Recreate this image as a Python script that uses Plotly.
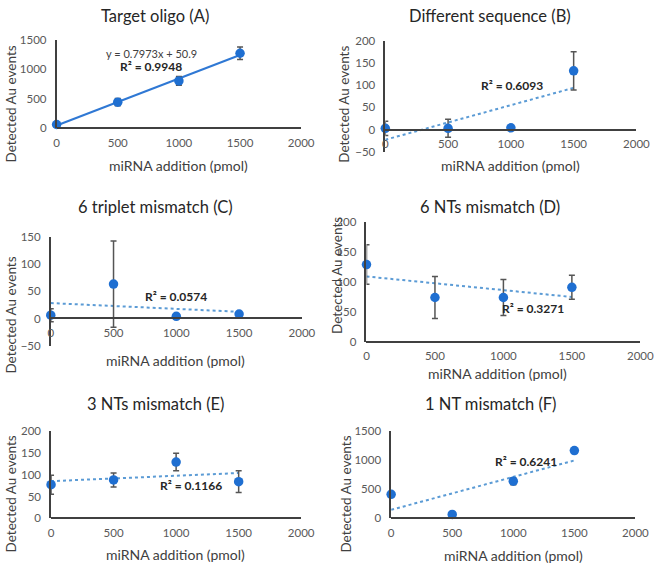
import numpy as np
import plotly.graph_objects as go

W, H = 667, 568

# ---------------- data ----------------
x_pmol = [0, 500, 1000, 1500]

titles = ["Target oligo (A)", "Different sequence (B)", "6 triplet mismatch (C)",
          "6 NTs mismatch (D)", "3 NTs mismatch (E)", "1 NT mismatch (F)"]

y_A = [62, 440, 800, 1268]
err_A = [12, 62, 75, 105]
y_B = [3, 3, 4, 132]
err_B = [16, 20, 3, 43]
y_C = [6, 63, 4, 8]
err_C = [12, 79, 3, 3]
y_D = [129, 74, 74, 91]
err_D = [33, 35, 30, 20]
y_E = [77, 88, 129, 84]
err_E = [22, 16, 20, 25]
y_F = [412, 67, 638, 1165]
err_F = [15, 15, 60, 20]

r2_labels = ["R² = 0.9948", "R² = 0.6093", "R² = 0.0574",
             "R² = 0.3271", "R² = 0.1166", "R² = 0.6241"]
equation_A = "y = 0.7973x + 50.9"

x_ticks = [0, 500, 1000, 1500, 2000]
y_ranges = [(0, 1500), (-50, 200), (-50, 150), (0, 200), (0, 200), (0, 1500)]
y_steps = [500, 50, 50, 50, 50, 500]

xlabel = "miRNA addition (pmol)"
ylabel = "Detected Au events"

series = [y_A, y_B, y_C, y_D, y_E, y_F]
errors = [err_A, err_B, err_C, err_D, err_E, err_F]

# ---------------- layout geometry (pixels) ----------------
# (left, right, top, bottom, y-of-x-axis-line)
boxes = [
    (55, 306, 33.3, 124, 124),
    (392.3, 650, 34.3, 148.3, 125.4),
    (49, 306.7, 235, 346.7, 318.5),
    (373, 654, 220, 342.7, 342.7),
    (49.3, 306, 434, 523.3, 523.3),
    (398.3, 649, 434, 523.3, 523.3),
]
title_pos = [(156, 9), (500, 9), (156, 205), (500, 205), (156, 406), (501, 406)]
xt_pos = [(180, 162), (521, 162), (177, 362), (507, 375), (177, 560), (524, 561)]
yt_pos = [(8, 99), (350, 100), (8, 315), (342, 275), (8, 498), (352, 499)]
# annotation positions in data coordinates
r2_pos = [(775, 1040), (1007, 98), (1001, 40), (1217, 55), (1120, 75), (1106, 980)]
eq_pos = (775, 1270)

FONT = "Lato, 'Open Sans', sans-serif"
MARK = "#1f6fd1"
TREND_SOLID = "#2f78d4"
TREND_DOT = "#5b9bd5"
ERR = "#555555"
AXIS = "#404040"

fig = go.Figure()
annotations = []

for i in range(6):
    n = i + 1
    xa = "x" if n == 1 else f"x{n}"
    ya = "y" if n == 1 else f"y{n}"
    l, r, t, b, z = boxes[i]
    ys = series[i]

    # least-squares linear trendline over the data
    k, c = np.polyfit(x_pmol, ys, 1)
    xs_fit = [x_pmol[0], x_pmol[-1]]
    fig.add_trace(go.Scatter(
        x=xs_fit, y=[k * v + c for v in xs_fit], mode="lines",
        line=dict(color=TREND_SOLID if i == 0 else TREND_DOT, width=2,
                  dash="solid" if i == 0 else "dot"),
        xaxis=xa, yaxis=ya, showlegend=False, hoverinfo="skip", cliponaxis=False))

    fig.add_trace(go.Scatter(
        x=x_pmol, y=ys, mode="markers",
        marker=dict(color=MARK, size=9.5),
        error_y=dict(type="data", array=errors[i], color=ERR, thickness=1.5, width=3),
        xaxis=xa, yaxis=ya, showlegend=False, cliponaxis=False))

    ax_key = "xaxis" if n == 1 else f"xaxis{n}"
    ay_key = "yaxis" if n == 1 else f"yaxis{n}"
    y0, y1 = y_ranges[i]
    fig.update_layout(**{
        ax_key: dict(domain=[l / W, r / W], range=[0, 2000], anchor="free",
                     position=1 - z / H, tickvals=x_ticks,
                     showgrid=False, zeroline=False, showline=True,
                     linecolor=AXIS, linewidth=1.5, ticks="",
                     ticklabelstandoff=4,
                     tickfont=dict(family=FONT, size=11.5, color="#595959")),
        ay_key: dict(domain=[1 - b / H, 1 - t / H], range=[y0, y1],
                     anchor=xa, tickvals=list(range(y0, y1 + 1, y_steps[i])),
                     showgrid=False, zeroline=False, showline=True,
                     linecolor=AXIS, linewidth=1.5, ticks="",
                     ticklabelstandoff=6,
                     tickfont=dict(family=FONT, size=11.5, color="#595959")),
    })

    tx, ty = title_pos[i]
    annotations.append(dict(text=titles[i], x=tx / W, y=1 - ty / H, xref="paper", yref="paper",
                            xanchor="center", yanchor="middle", showarrow=False,
                            font=dict(family=FONT, size=16.5, color="#262626")))
    xx, xy = xt_pos[i]
    annotations.append(dict(text=xlabel, x=xx / W, y=1 - xy / H, xref="paper", yref="paper",
                            xanchor="center", yanchor="middle", showarrow=False,
                            font=dict(family=FONT, size=14, color="#404040")))
    yx, yy = yt_pos[i]
    annotations.append(dict(text=ylabel, x=yx / W, y=1 - yy / H, xref="paper", yref="paper",
                            xanchor="center", yanchor="middle", showarrow=False, textangle=-90,
                            font=dict(family=FONT, size=13.5, color="#404040")))
    rx, ry = r2_pos[i]
    annotations.append(dict(text="<b>" + r2_labels[i] + "</b>", x=rx, y=ry, xref=xa, yref=ya,
                            xanchor="center", yanchor="middle", showarrow=False,
                            font=dict(family=FONT, size=12, color="#262626")))

annotations.append(dict(text=equation_A, x=eq_pos[0], y=eq_pos[1], xref="x", yref="y",
                        xanchor="center", yanchor="middle", showarrow=False,
                        font=dict(family=FONT, size=11, color="#404040")))

fig.update_layout(width=W, height=H, margin=dict(l=0, r=0, t=0, b=0),
                  paper_bgcolor="white", plot_bgcolor="white",
                  annotations=annotations, showlegend=False)

fig.write_html("out.html", config={"displayModeBar": False},
               post_script="document.body.style.margin='0';document.body.style.overflow='hidden';")
